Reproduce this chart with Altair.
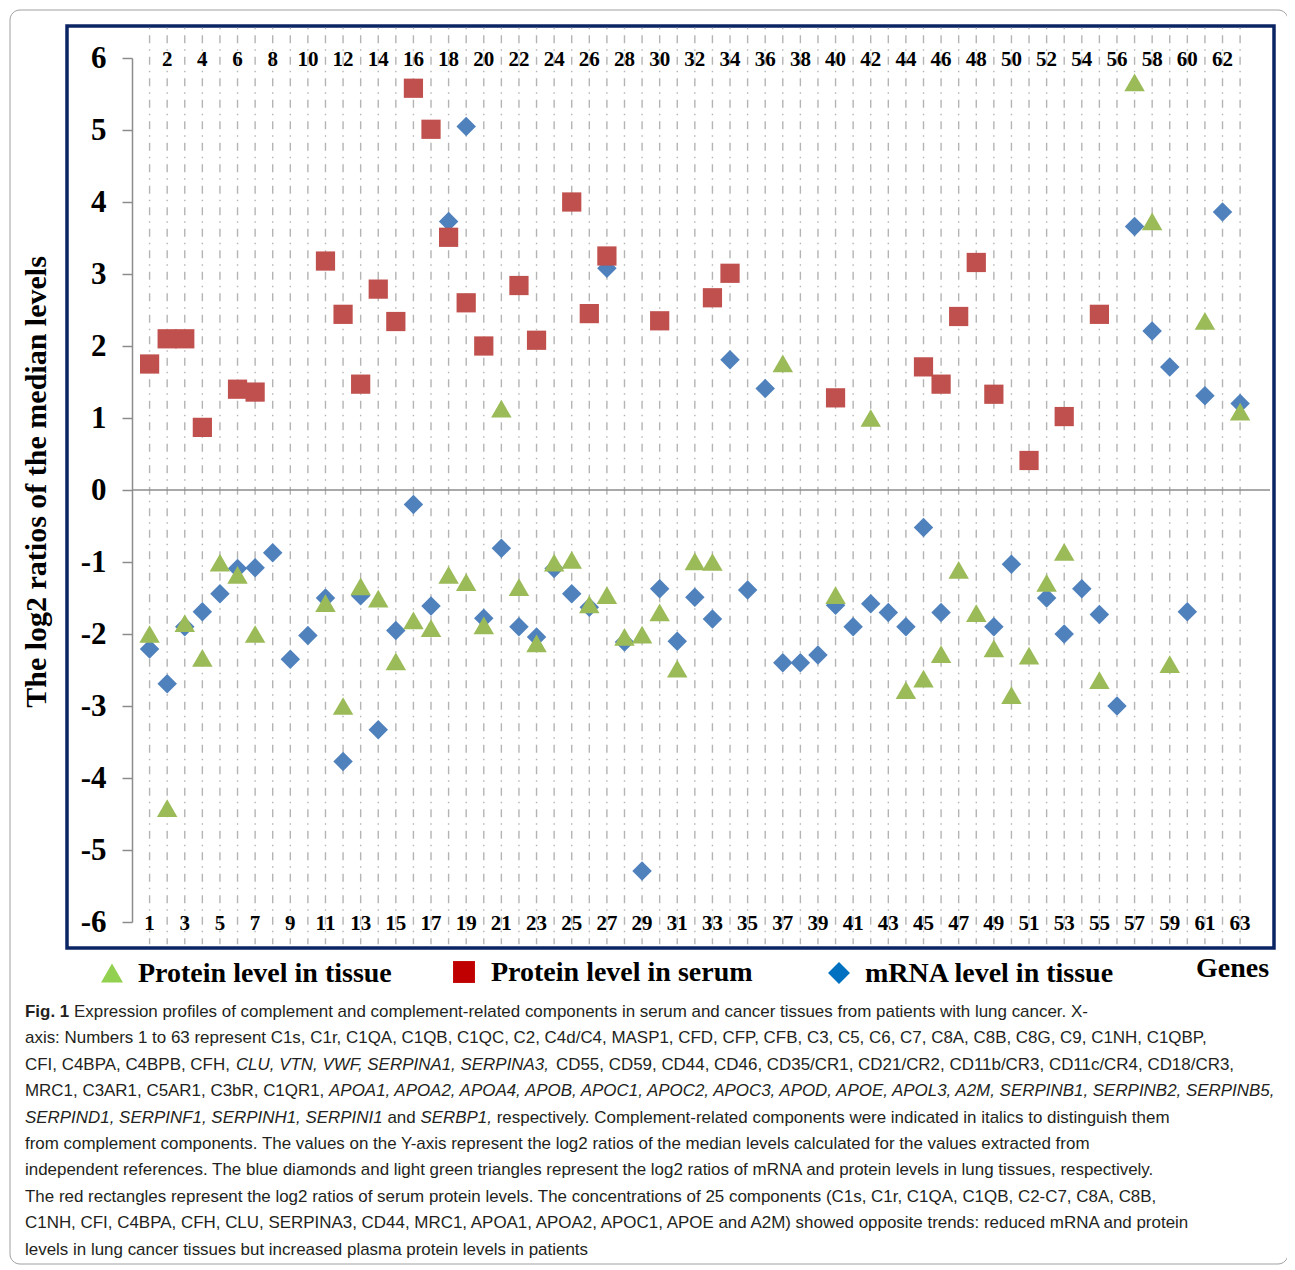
import altair as alt
import pandas as pd

# ---------------- data ----------------
genes = list(range(1, 64))

protein_tissue = [-2.0, -4.42, -1.85, -2.33, -1.01, -1.18, -2.0, None, None, None,
                  -1.57, -3.0, -1.34, -1.51, -2.38, -1.81, -1.92, -1.18, -1.28, -1.88,
                  1.13, -1.35, -2.13, -1.01, -0.97, -1.59, -1.46, -2.04, -2.01, -1.70,
                  -2.48, -0.99, -1.00, None, None, None, 1.76, None, None, -1.46,
                  None, 1.0, None, -2.78, -2.62, -2.28, -1.11, -1.71, -2.20, -2.85,
                  -2.30, -1.29, -0.86, None, -2.64, None, 5.66, 3.73, -2.42, None,
                  2.35, None, 1.09]

protein_serum = [1.75, 2.1, 2.1, 0.87, None, 1.40, 1.36, None, None, None,
                 3.18, 2.44, 1.47, 2.79, 2.34, 5.58, 5.01, 3.51, 2.60, 2.00,
                 None, 2.84, 2.08, None, 4.00, 2.45, 3.25, None, None, 2.35,
                 None, None, 2.67, 3.01, None, None, None, None, None, 1.28,
                 None, None, None, None, 1.71, 1.47, 2.41, 3.16, 1.33, None,
                 0.41, None, 1.02, None, 2.44, None, None, None, None, None,
                 None, None, None]

mrna_tissue = [-2.21, -2.69, -1.90, -1.69, -1.44, -1.09, -1.08, -0.87, -2.35, -2.02,
               -1.50, -3.77, -1.47, -3.33, -1.95, -0.20, -1.61, 3.73, 5.05, -1.78,
               -0.81, -1.90, -2.04, -1.09, -1.44, -1.63, 3.08, -2.11, -5.29, -1.37,
               -2.10, -1.49, -1.79, 1.81, -1.39, 1.41, -2.40, -2.40, -2.29, -1.60,
               -1.90, -1.58, -1.70, -1.90, -0.52, -1.70, None, None, -1.90, -1.03,
               None, -1.50, -2.0, -1.37, -1.73, -3.0, 3.66, 2.21, 1.71, -1.69,
               1.31, 3.86, 1.20]

y_ticks = list(range(-6, 7))
series_names = ["Protein level in tissue", "Protein level in serum", "mRNA level in tissue"]
y_title = "The log2 ratios of the median levels"
x_title = "Genes"

caption_lines = [
    [("Fig. 1", "bold"), (" Expression profiles of complement and complement-related components in serum and cancer tissues from patients with lung cancer. X-", "normal")],
    [("axis: Numbers 1 to 63 represent C1s, C1r, C1QA, C1QB, C1QC, C2, C4d/C4, MASP1, CFD, CFP, CFB, C3, C5, C6, C7, C8A, C8B, C8G, C9, C1NH, C1QBP,", "normal")],
    [("CFI, C4BPA, C4BPB, CFH, ", "normal"), ("CLU, VTN, VWF, SERPINA1, SERPINA3,", "italic"), (" CD55, CD59, CD44, CD46, CD35/CR1, CD21/CR2, CD11b/CR3, CD11c/CR4, CD18/CR3,", "normal")],
    [("MRC1, C3AR1, C5AR1, C3bR, C1QR1, ", "normal"), ("APOA1, APOA2, APOA4, APOB, APOC1, APOC2, APOC3, APOD, APOE, APOL3, A2M, SERPINB1, SERPINB2, SERPINB5,", "italic")],
    [("SERPIND1, SERPINF1, SERPINH1, SERPINI1", "italic"), (" and ", "normal"), ("SERBP1,", "italic"), (" respectively. Complement-related components were indicated in italics to distinguish them", "normal")],
    [("from complement components. The values on the Y-axis represent the log2 ratios of the median levels calculated for the values extracted from", "normal")],
    [("independent references. The blue diamonds and light green triangles represent the log2 ratios of mRNA and protein levels in lung tissues, respectively.", "normal")],
    [("The red rectangles represent the log2 ratios of serum protein levels. The concentrations of 25 components (C1s, C1r, C1QA, C1QB, C2-C7, C8A, C8B,", "normal")],
    [("C1NH, CFI, C4BPA, CFH, CLU, SERPINA3, CD44, MRC1, APOA1, APOA2, APOC1, APOE and A2M) showed opposite trends: reduced mRNA and protein", "normal")],
    [("levels in lung cancer tissues but increased plasma protein levels in patients", "normal")],
]

# ---------------- layout ----------------
W, H = 1138, 864          # plot area
OX, OY = 132, 58          # page position of plot origin
xs = alt.Scale(domain=[0, 64.7], nice=False, zero=False)
ys = alt.Scale(domain=[-6, 6], nice=False, zero=False)

SERIF = "Liberation Serif"
CAP_FONT = "Liberation Sans"

yaxis = alt.Axis(values=y_ticks, labelExpr="'' + datum.value", labelFont=SERIF,
                 labelFontWeight="bold", labelFontSize=31, labelColor="black",
                 tickColor="#8c8c8c", tickSize=10, tickWidth=1.5, domainColor="#8c8c8c",
                 domainWidth=1.5, labelPadding=16, grid=False, title=None)

rows = []
for name, vals in [("mrna", mrna_tissue), ("tissue", protein_tissue), ("serum", protein_serum)]:
    for g, v in zip(genes, vals):
        if v is not None:
            rows.append({"gene": g, "value": v, "series": name})
df = pd.DataFrame(rows)

gene_df = pd.DataFrame({"gene": genes})

grid = alt.Chart(gene_df).mark_rule(color="#b4b4b4", strokeWidth=1.4,
                                     strokeDash=[1.5, 6, 8, 6]).encode(
    x=alt.X("gene:Q", scale=xs, axis=None),
    y=alt.YDatum(6.42, scale=ys, axis=yaxis),
    y2=alt.Y2Datum(-6.31),
)

zero = alt.Chart(pd.DataFrame({"v": [0]})).mark_rule(color="#8c8c8c", strokeWidth=1.5).encode(
    y=alt.Y("v:Q", scale=ys, axis=yaxis)
)


def pts(series, shape, size, color):
    return alt.Chart(df).transform_filter(f"datum.series == '{series}'").mark_point(
        shape=shape, filled=True, size=size, color=color, opacity=1, strokeWidth=0
    ).encode(
        x=alt.X("gene:Q", scale=xs, axis=None),
        y=alt.Y("value:Q", scale=ys, axis=yaxis),
    )


blue = pts("mrna", "diamond", 380, "#4f81bd")
green = pts("tissue", "triangle-up", 420, "#9bbb59")
red = pts("serum", "square", 370, "#c0504d")

odd_df = pd.DataFrame({"gene": [g for g in genes if g % 2 == 1]})
even_df = pd.DataFrame({"gene": [g for g in genes if g % 2 == 0]})

odd_lab = alt.Chart(odd_df).mark_text(font=SERIF, fontWeight="bold", fontSize=21,
                                      baseline="middle", align="center", dy=2, color="black").encode(
    x=alt.X("gene:Q", scale=xs, axis=None),
    y=alt.YDatum(-6, scale=ys, axis=yaxis),
    text=alt.Text("gene:N"),
)
even_lab = alt.Chart(even_df).mark_text(font=SERIF, fontWeight="bold", fontSize=21,
                                        baseline="middle", align="center", dy=2, color="black").encode(
    x=alt.X("gene:Q", scale=xs, axis=None),
    y=alt.YDatum(6, scale=ys, axis=yaxis),
    text=alt.Text("gene:N"),
)

one = pd.DataFrame({"k": [0]})

frame = alt.Chart(one).mark_rect(fill=None, fillOpacity=0, stroke="#0b2463", strokeWidth=3.5).encode(
    x=alt.value(67 - OX), x2=alt.value(1274 - OX), y=alt.value(26 - OY), y2=alt.value(948 - OY)
)
outer = alt.Chart(one).mark_rect(fill=None, fillOpacity=0, stroke="#a0a0a0", strokeWidth=1,
                                  cornerRadius=10).encode(
    x=alt.value(10 - OX), x2=alt.value(1288 - OX), y=alt.value(10 - OY), y2=alt.value(1264 - OY)
)

ytitle = alt.Chart(one).mark_text(font=SERIF, fontWeight="bold", fontSize=30, angle=270,
                                  baseline="middle", align="center", color="black").encode(
    x=alt.value(37 - OX), y=alt.value(482 - OY), text=alt.value(y_title)
)

# legend (drawn manually)
leg_specs = [
    (series_names[0], "triangle-up", "#92d050", 112, 973, 138),
    (series_names[1], "square", "#c00000", 464, 972, 491),
    (series_names[2], "diamond", "#0070c0", 839, 973, 865),
]
legend_layers = []
for name, shape, col, sx, sy, tx in leg_specs:
    ldf = pd.DataFrame({"label": [name]})
    legend_layers.append(alt.Chart(ldf).mark_point(shape=shape, filled=True, size=480, color=col,
                                                   opacity=1, strokeWidth=0).encode(
        x=alt.value(sx - OX), y=alt.value(sy - OY)))
    legend_layers.append(alt.Chart(ldf).mark_text(font=SERIF, fontWeight="bold", fontSize=28,
                                                  align="left", baseline="middle", color="black").encode(
        x=alt.value(tx - OX), y=alt.value(sy + 1 - OY), text="label:N"))

genes_lab = alt.Chart(one).mark_text(font=SERIF, fontWeight="bold", fontSize=28, align="left",
                                     baseline="middle", color="black").encode(
    x=alt.value(1196 - OX), y=alt.value(969 - OY), text=alt.value(x_title))

# caption: compute segment positions from Arial-compatible metrics (Liberation Sans)
AW = {' ': 278, '!': 278, '(': 333, ')': 333, ',': 278, '-': 333, '.': 278, '/': 278, ':': 278}
for d in "0123456789":
    AW[d] = 556
AW.update(dict(zip("ABCDEFGHIJKLMNOPQRSTUVWXYZ",
                   [667, 667, 722, 722, 667, 611, 778, 722, 278, 500, 667, 556, 833, 722, 778, 667,
                    778, 722, 667, 611, 722, 667, 944, 667, 667, 611])))
AW.update(dict(zip("abcdefghijklmnopqrstuvwxyz",
                   [556, 556, 500, 556, 556, 278, 556, 556, 222, 222, 500, 222, 833, 556, 556, 556,
                    556, 333, 500, 278, 556, 500, 722, 500, 500, 500])))
ABW = {'F': 611, 'i': 278, 'g': 611, '.': 278, ' ': 278, '1': 556}


def em(text, style="normal"):
    tbl = ABW if style == "bold" else AW
    return sum(tbl.get(c, AW.get(c, 556)) for c in text) / 1000.0


CAP_X0 = 25
CAP_MAXW = 1256
line_ems = [sum(em(t, s) for t, s in segs) for segs in caption_lines]
CAP_SIZE = min(CAP_MAXW / e for e in line_ems)
CAP_Y0 = 1012
CAP_DY = 26.4

cap_rows = []
for i, segs in enumerate(caption_lines):
    x = CAP_X0
    for t, s in segs:
        lead = len(t) - len(t.lstrip())
        xr = x + em(t[:lead], s) * CAP_SIZE
        cap_rows.append({"px": xr - OX, "py": CAP_Y0 + i * CAP_DY - OY, "t": t.strip(), "style": s})
        x += em(t, s) * CAP_SIZE
cap_df = pd.DataFrame(cap_rows)

cap_layers = []
for style in ["normal", "italic", "bold"]:
    kw = {}
    if style == "italic":
        kw["fontStyle"] = "italic"
    if style == "bold":
        kw["fontWeight"] = "bold"
    cap_layers.append(alt.Chart(cap_df).transform_filter(f"datum.style == '{style}'").mark_text(
        font=CAP_FONT, fontSize=CAP_SIZE, align="left", baseline="middle", color="#231f20", **kw
    ).encode(
        x=alt.X("px:Q", scale=None, axis=None),
        y=alt.Y("py:Q", scale=None, axis=None),
        text="t:N",
    ))

chart = alt.layer(
    outer, frame, grid, zero, blue, green, red, odd_lab, even_lab, ytitle,
    *legend_layers, genes_lab, *cap_layers
).properties(
    width=W, height=H,
    autosize=alt.AutoSizeParams(type="none"),
    padding={"left": OX - 8, "top": OY - 8, "right": 1279 - (OX - 8) - W, "bottom": 1262 - (OY - 8) - H},
).configure_view(strokeWidth=0)

chart.save("out.html", embed_options={"renderer": "svg", "actions": False})
